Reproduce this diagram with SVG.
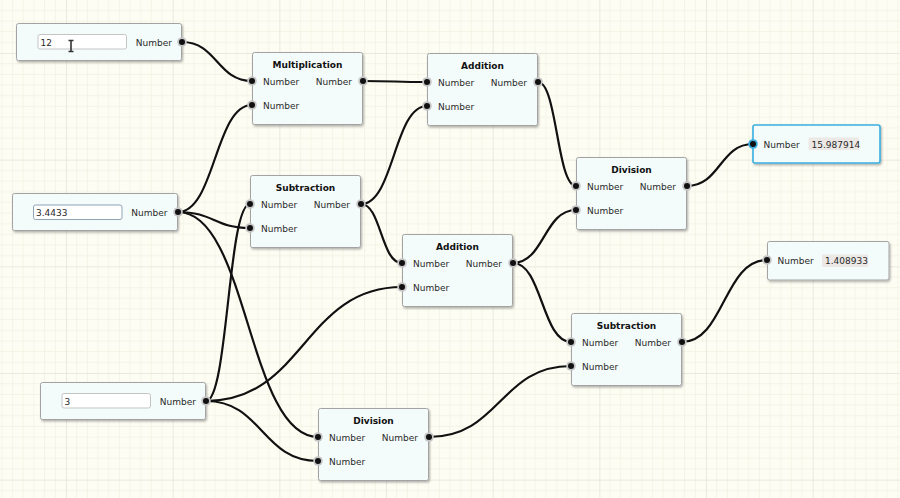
<svg xmlns="http://www.w3.org/2000/svg" width="900" height="498" viewBox="0 0 900 498">
<defs>
<pattern id="grid" patternUnits="userSpaceOnUse" x="66" y="53" width="106.667" height="106.667">
<path d="M10.667 0V106.667M21.333 0V106.667M32 0V106.667M42.667 0V106.667M53.333 0V106.667M64 0V106.667M74.667 0V106.667M85.333 0V106.667M96 0V106.667M0 10.667H106.667M0 21.333H106.667M0 32H106.667M0 42.667H106.667M0 53.333H106.667M0 64H106.667M0 74.667H106.667M0 85.333H106.667M0 96H106.667" stroke="#f4f4e5" stroke-width="1" fill="none"/>
<path d="M0.5 0V106.667M0 0.5H106.667" stroke="#e9e9dc" stroke-width="1" fill="none"/>
</pattern>
<filter id="sh" x="-10%" y="-10%" width="130%" height="140%">
<feDropShadow dx="1" dy="1.5" stdDeviation="1.2" flood-color="#000" flood-opacity="0.3"/>
</filter>
</defs>
<style>
.node{fill:#f4fcfb;stroke:#a3a3a3;stroke-width:1;filter:url(#sh)}
.out1{fill:#f4fcfb;stroke:#3aaee0;stroke-width:1.6;filter:url(#sh)}
.lbl{font-family:"DejaVu Sans",sans-serif;font-size:9px;fill:#2a2a2a}
.ttl{font-family:"DejaVu Sans",sans-serif;font-size:9px;font-weight:bold;fill:#111;text-anchor:middle}
.end{text-anchor:end}
.inp{fill:#fff;stroke:#c4c4c4;stroke-width:1}
.val{fill:#ece8e5}
.ring{fill:#c6c6c6}
.dot{fill:#111}
.wire{fill:none;stroke:#111;stroke-width:2.2;stroke-linecap:round}
</style>
<rect width="900" height="498" fill="#fdfdf4"/>
<rect width="900" height="498" fill="url(#grid)"/>

<g id="connectors">
<path class="wire" d="M182 42C217 42 217 81 252 81"/>
<path class="wire" d="M178 212C215 212 215 105 252 105"/>
<path class="wire" d="M178 212C214 212 214 228 250 228"/>
<path class="wire" d="M178 212C248 212 248 437 318 437"/>
<path class="wire" d="M206 401C228 401 228 204 250 204"/>
<path class="wire" d="M206 401C304 401 304 287 402 287"/>
<path class="wire" d="M206 401C262 401 262 461 318 461"/>
<path class="wire" d="M363 81C395 81 395 82 427 82"/>
<path class="wire" d="M361 204C394 204 394 106 427 106"/>
<path class="wire" d="M361 204C381 204 381 263 402 263"/>
<path class="wire" d="M538 82C557 82 557 186 576 186"/>
<path class="wire" d="M513 263C544 263 544 210 576 210"/>
<path class="wire" d="M513 263C542 263 542 342 571 342"/>
<path class="wire" d="M429 437C500 437 500 366 571 366"/>
<path class="wire" d="M687 186C720 186 720 144 753 144"/>
<path class="wire" d="M682 342C724 342 724 260 767 260"/>
</g>

<g id="in12">
<rect class="node" x="16.5" y="23.5" width="165" height="37" rx="2"/>
<rect class="inp" x="38" y="34.5" width="88.5" height="14.5" rx="2"/>
<text class="lbl" x="40.5" y="45.5">12</text>
<text class="lbl end" x="172" y="45.5">Number</text>
<circle class="ring" cx="182" cy="42" r="4.8"/><circle class="dot" cx="182" cy="42" r="3"/>
<path d="M68.5 40.5h5M68.5 51.5h5M71 40.5v11" stroke="#333" stroke-width="1.6" fill="none"/>
</g>

<g id="in34433">
<rect class="node" x="12.5" y="193.5" width="165" height="37" rx="2"/>
<rect class="inp" x="33.5" y="205" width="88.5" height="14.5" rx="2" style="stroke:#8fa4b4"/>
<text class="lbl" x="36" y="216">3.4433</text>
<text class="lbl end" x="167.5" y="215.5">Number</text>
<circle class="ring" cx="178" cy="212" r="4.8"/><circle class="dot" cx="178" cy="212" r="3"/>
</g>

<g id="in3">
<rect class="node" x="40.5" y="382.5" width="165" height="37" rx="2"/>
<rect class="inp" x="62" y="393.5" width="88.5" height="14.5" rx="2"/>
<text class="lbl" x="64.5" y="404.5">3</text>
<text class="lbl end" x="196" y="404.5">Number</text>
<circle class="ring" cx="206" cy="401" r="4.8"/><circle class="dot" cx="206" cy="401" r="3"/>
</g>

<g id="mult">
<rect class="node" x="252.5" y="52.5" width="110" height="72" rx="2"/>
<text class="ttl" x="307.5" y="67.5">Multiplication</text>
<text class="lbl" x="263" y="84.5">Number</text>
<text class="lbl end" x="352" y="84.5">Number</text>
<text class="lbl" x="263" y="108.5">Number</text>
<circle class="ring" cx="252" cy="81" r="4.8"/><circle class="dot" cx="252" cy="81" r="3"/>
<circle class="ring" cx="252" cy="105" r="4.8"/><circle class="dot" cx="252" cy="105" r="3"/>
<circle class="ring" cx="363" cy="81" r="4.8"/><circle class="dot" cx="363" cy="81" r="3"/>
</g>

<g id="sub1">
<rect class="node" x="250.5" y="175.5" width="110" height="72" rx="2"/>
<text class="ttl" x="305.5" y="190.5">Subtraction</text>
<text class="lbl" x="261" y="207.5">Number</text>
<text class="lbl end" x="350" y="207.5">Number</text>
<text class="lbl" x="261" y="231.5">Number</text>
<circle class="ring" cx="250" cy="204" r="4.8"/><circle class="dot" cx="250" cy="204" r="3"/>
<circle class="ring" cx="250" cy="228" r="4.8"/><circle class="dot" cx="250" cy="228" r="3"/>
<circle class="ring" cx="361" cy="204" r="4.8"/><circle class="dot" cx="361" cy="204" r="3"/>
</g>

<g id="add1">
<rect class="node" x="427.5" y="53.5" width="110" height="72" rx="2"/>
<text class="ttl" x="482.5" y="68.5">Addition</text>
<text class="lbl" x="438" y="85.5">Number</text>
<text class="lbl end" x="527" y="85.5">Number</text>
<text class="lbl" x="438" y="109.5">Number</text>
<circle class="ring" cx="427" cy="82" r="4.8"/><circle class="dot" cx="427" cy="82" r="3"/>
<circle class="ring" cx="427" cy="106" r="4.8"/><circle class="dot" cx="427" cy="106" r="3"/>
<circle class="ring" cx="538" cy="82" r="4.8"/><circle class="dot" cx="538" cy="82" r="3"/>
</g>

<g id="add2">
<rect class="node" x="402.5" y="234.5" width="110" height="72" rx="2"/>
<text class="ttl" x="457.5" y="249.5">Addition</text>
<text class="lbl" x="413" y="266.5">Number</text>
<text class="lbl end" x="502" y="266.5">Number</text>
<text class="lbl" x="413" y="290.5">Number</text>
<circle class="ring" cx="402" cy="263" r="4.8"/><circle class="dot" cx="402" cy="263" r="3"/>
<circle class="ring" cx="402" cy="287" r="4.8"/><circle class="dot" cx="402" cy="287" r="3"/>
<circle class="ring" cx="513" cy="263" r="4.8"/><circle class="dot" cx="513" cy="263" r="3"/>
</g>

<g id="div1">
<rect class="node" x="576.5" y="157.5" width="110" height="72" rx="2"/>
<text class="ttl" x="631.5" y="172.5">Division</text>
<text class="lbl" x="587" y="189.5">Number</text>
<text class="lbl end" x="676" y="189.5">Number</text>
<text class="lbl" x="587" y="213.5">Number</text>
<circle class="ring" cx="576" cy="186" r="4.8"/><circle class="dot" cx="576" cy="186" r="3"/>
<circle class="ring" cx="576" cy="210" r="4.8"/><circle class="dot" cx="576" cy="210" r="3"/>
<circle class="ring" cx="687" cy="186" r="4.8"/><circle class="dot" cx="687" cy="186" r="3"/>
</g>

<g id="sub2">
<rect class="node" x="571.5" y="313.5" width="110" height="72" rx="2"/>
<text class="ttl" x="626.5" y="328.5">Subtraction</text>
<text class="lbl" x="582" y="345.5">Number</text>
<text class="lbl end" x="671" y="345.5">Number</text>
<text class="lbl" x="582" y="369.5">Number</text>
<circle class="ring" cx="571" cy="342" r="4.8"/><circle class="dot" cx="571" cy="342" r="3"/>
<circle class="ring" cx="571" cy="366" r="4.8"/><circle class="dot" cx="571" cy="366" r="3"/>
<circle class="ring" cx="682" cy="342" r="4.8"/><circle class="dot" cx="682" cy="342" r="3"/>
</g>

<g id="div2">
<rect class="node" x="318.5" y="408.5" width="110" height="72" rx="2"/>
<text class="ttl" x="373.5" y="423.5">Division</text>
<text class="lbl" x="329" y="440.5">Number</text>
<text class="lbl end" x="418" y="440.5">Number</text>
<text class="lbl" x="329" y="464.5">Number</text>
<circle class="ring" cx="318" cy="437" r="4.8"/><circle class="dot" cx="318" cy="437" r="3"/>
<circle class="ring" cx="318" cy="461" r="4.8"/><circle class="dot" cx="318" cy="461" r="3"/>
<circle class="ring" cx="429" cy="437" r="4.8"/><circle class="dot" cx="429" cy="437" r="3"/>
</g>

<g id="out1">
<rect class="out1" x="753" y="125" width="127" height="38" rx="2"/>
<text class="lbl" x="763.5" y="147.5">Number</text>
<rect class="val" x="808.5" y="137.5" width="50.5" height="12.5" rx="1"/>
<text class="lbl" x="811.5" y="147.5">15.987914</text>
<circle cx="753" cy="144" r="4.8" fill="#3aaee0"/><circle class="dot" cx="753" cy="144" r="3"/>
</g>

<g id="out2">
<rect class="node" x="767.5" y="241.5" width="121.5" height="38.5" rx="2"/>
<text class="lbl" x="777.5" y="263.5">Number</text>
<rect class="val" x="822" y="254.5" width="46" height="12.5" rx="1"/>
<text class="lbl" x="825" y="264">1.408933</text>
<circle class="ring" cx="767" cy="260" r="4.8"/><circle class="dot" cx="767" cy="260" r="3"/>
</g>
</svg>
